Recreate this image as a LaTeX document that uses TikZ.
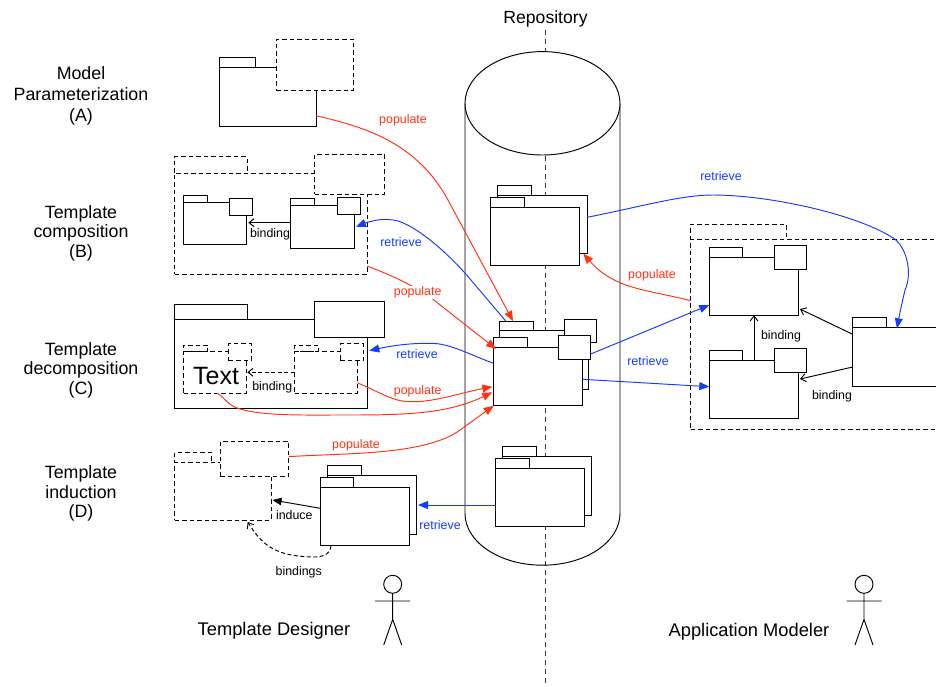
\documentclass[tikz,border=0pt]{standalone}
\usepackage{fontspec}
\setmainfont{Liberation Sans}
\usetikzlibrary{arrows.meta,shapes.geometric}
\definecolor{redl}{RGB}{255,50,20}
\definecolor{bluel}{RGB}{20,60,255}
\tikzset{
  solidbox/.style={draw=black,fill=white,line width=0.95pt,inner sep=0pt,outer sep=0pt,anchor=north west},
  dashbox/.style={solidbox,dash pattern=on 4.5pt off 3pt},
  redarrow/.style={draw=redl,line width=0.95pt,-{Triangle[length=10pt,width=8pt]}},
  bluearrow/.style={draw=bluel,line width=0.95pt,-{Triangle[length=10pt,width=8pt]}},
  openarrow/.style={draw=black,line width=0.95pt,-{Straight Barb[length=5pt,width=8pt]}},
  fullarrow/.style={draw=black,line width=0.95pt,-{Triangle[length=9pt,width=7.5pt]}},
  smalltxt/.style={font=\fontsize{12.4}{15}\selectfont,inner sep=0pt},
  redtxt/.style={smalltxt,text=redl,fill=white,inner sep=1pt},
  bluetxt/.style={smalltxt,text=bluel},
  sidetxt/.style={align=center,inner sep=0pt},
  bigtxt/.style={font=\fontsize{18.3}{21}\selectfont,inner sep=0pt},
  limb/.style={draw=black,line width=0.95pt},
  axisline/.style={draw=black!80,line width=0.95pt,dash pattern=on 5pt off 4pt}
}
\newcommand{\bx}[6]{%
  \pgfmathsetmacro\bxw{#5-#3}\pgfmathsetmacro\bxh{#6-#4}%
  \node[#1,minimum width=\bxw pt,minimum height=\bxh pt] (#2) at (#3,#4) {};}
\begin{document}
\begin{tikzpicture}[x=1pt,y=-1pt]
\clip (0,0) rectangle (936,686);
\fill[white] (0,0) rectangle (936,686);
% repository axis and cylinder
\coordinate (axistop) at (545,30);
\coordinate (axisbot) at (545,686);
\draw[axisline] (axistop) -- (axisbot);
\draw[draw=black,line width=0.95pt] (465,103.3) -- (465,513.5) arc[start angle=180,end angle=0,x radius=77.5,y radius=51.7] -- (620,103.3);
\node[draw=black,fill=white,ellipse,minimum width=155pt,minimum height=103.4pt,inner sep=0pt,outer sep=0pt,line width=0.95pt] at (542.5,103.3) (cyltop) {};
% A
\bx{solidbox}{Atab}{219.3}{57.3}{255.5}{67.3}
\bx{solidbox}{A}{219.3}{67.3}{316}{126}
\bx{dashbox}{Ap}{276.3}{39.3}{353.7}{90}
% B
\bx{dashbox}{Btab}{174.7}{156.7}{247}{173.3}
\bx{dashbox}{B}{174.7}{173.3}{367.3}{274.3}
\bx{dashbox}{Bp}{314.7}{154}{384.3}{194.3}
\bx{solidbox}{BLtab}{183.7}{195.7}{207.3}{202.3}
\bx{solidbox}{BL}{183.7}{202.3}{246.3}{244}
\bx{solidbox}{BLp}{229.3}{198.7}{252}{215.3}
\bx{solidbox}{BRtab}{290.7}{198.7}{314.7}{205.7}
\bx{solidbox}{BR}{290.7}{205.7}{354.3}{248}
\bx{solidbox}{BRp}{337}{197.3}{360.3}{214.7}
\draw[openarrow] ([yshift=-17pt]BR.north west) -- ([yshift=-20.4pt,xshift=2pt]BL.north east);
\node[smalltxt] (Bbind) at (270,234.2) {binding};
% C
\bx{solidbox}{Ctab}{174.7}{304.3}{247}{319}
\bx{solidbox}{C}{174.7}{319}{367}{408.3}
\bx{solidbox}{Cp}{314.7}{301.7}{384.3}{337.7}
\bx{dashbox}{CLtab}{183.7}{345}{207.3}{351.7}
\bx{dashbox}{CL}{183.7}{351.7}{246}{393.3}
\bx{dashbox}{CLp}{228.7}{343.7}{251.3}{360.7}
\bx{dashbox}{CRtab}{294.7}{345}{318}{351.7}
\bx{dashbox}{CR}{294.7}{351.7}{357.3}{393.3}
\bx{dashbox}{CRp}{340}{343.7}{363.3}{360.7}
\node[font=\fontsize{25}{28}\selectfont,inner sep=0pt] (Ctxt) at (216,375.7) {Text};
\draw[openarrow,dash pattern=on 4pt off 2.5pt] ([yshift=-20.6pt]CR.north west) -- ([yshift=-20.6pt,xshift=1.3pt]CL.north east);
\node[smalltxt] (Cbind) at (272.3,387.5) {binding};
% D
\bx{dashbox}{Dtab}{174.7}{452.3}{211}{462}
\bx{dashbox}{D}{174.7}{462}{271}{520}
\bx{dashbox}{Dp}{220.3}{441.3}{288.7}{476.7}
\bx{solidbox}{Dbtab}{327.3}{465}{361}{475}
\bx{solidbox}{Db}{327.3}{475}{416.7}{534}
\bx{solidbox}{Dftab}{320.3}{477.3}{353.7}{487}
\bx{solidbox}{Df}{320.3}{487}{409.7}{545.7}
\draw[fullarrow] ([yshift=-21.3pt]Df.north west) -- ([yshift=-38pt,xshift=1.5pt]D.north east);
\node[smalltxt] (Dind) at (294.3,514.8) {induce};
\draw[openarrow,dash pattern=on 4pt off 2.5pt] ([xshift=-78.7pt]Df.south east) .. controls (330,556) and (320,558) .. (306.7,556.7) .. controls (275,555) and (262,545) .. ([xshift=-23.3pt,yshift=-2pt]D.south east);
\node[smalltxt] (Dbinds) at (298.7,572) {bindings};
% repository package 1
\bx{solidbox}{Rabtab}{497.7}{185.3}{531.7}{195}
\bx{solidbox}{Rab}{497.7}{195}{587}{253.7}
\bx{solidbox}{Raftab}{490.7}{197.3}{524.3}{207}
\bx{solidbox}{Raf}{490.7}{207}{579.7}{265.7}
% repository package 2
\bx{solidbox}{Rbbtab}{499.7}{321}{533.3}{330.7}
\bx{solidbox}{Rbb}{499.7}{330.7}{588.7}{389.3}
\bx{solidbox}{Rbbp}{564.3}{319.3}{596.7}{342.7}
\bx{solidbox}{Rbftab}{493.7}{337.3}{527.3}{347.3}
\bx{solidbox}{Rbf}{493.7}{347.3}{582.7}{405.7}
\bx{solidbox}{Rbfp}{558.7}{335.7}{590.7}{359.3}
% repository package 3
\bx{solidbox}{Rcbtab}{502.7}{446.3}{536.3}{456}
\bx{solidbox}{Rcb}{502.7}{456}{591.7}{515}
\bx{solidbox}{Rcftab}{495.7}{458.3}{529.3}{468}
\bx{solidbox}{Rcf}{495.7}{468}{584.7}{526.7}
% right side
\bx{dashbox}{Etab}{690.7}{224}{786}{239.3}
\bx{dashbox}{E}{690.7}{239.3}{950}{429.3}
\bx{solidbox}{Ettab}{709.3}{247.3}{742.7}{257}
\bx{solidbox}{Et}{709.3}{257}{798.3}{315.3}
\bx{solidbox}{Etp}{774}{245.7}{806.3}{269}
\bx{solidbox}{Ebtab}{709.3}{350.3}{742.7}{360}
\bx{solidbox}{Eb}{709.3}{360}{798.3}{418.3}
\bx{solidbox}{Ebp}{774}{348.7}{806.3}{372}
\bx{solidbox}{Ertab}{852.7}{317.7}{886}{327.3}
\bx{solidbox}{Er}{852.7}{327.3}{950}{386}
\draw[openarrow] ([xshift=44.7pt]Eb.north west) -- ([xshift=44.7pt]Et.south west);
\node[smalltxt] (Ebind1) at (781,336.5) {binding};
\draw[openarrow] ([yshift=-7pt]Er.north west) -- ([yshift=6.3pt,xshift=1.7pt]Et.south east);
\draw[openarrow] ([yshift=-39.7pt]Er.north west) -- ([yshift=-19pt,xshift=1.7pt]Eb.north east);
\node[smalltxt] (Ebind2) at (832,395.8) {binding};
% red populate
\draw[redarrow] ([yshift=-48.4pt]A.north east) .. controls (370,128) and (418,145) .. (448,200) -- ([xshift=13.3pt]Rbbtab.north west);
\node[redtxt,fill=none] (l1) at (403,120) {populate};
\draw[redarrow] ([yshift=8.3pt]B.south east) .. controls (385,273) and (410,283) .. (431.7,298.3) -- ([xshift=2.3pt,yshift=-1.6pt]Rbf.north west);
\node[redtxt] (l2) at (417.7,292.5) {populate};
\draw[redarrow] ([yshift=10.6pt]CR.south east) .. controls (385,395) and (395,402) .. (411.7,401.7) .. controls (435,402) and (460,393) .. ([yshift=-39.4pt,xshift=-1.4pt]Rbf.north west);
\node[redtxt,fill=none] (l3) at (417.7,391.5) {populate};
\draw[redarrow] ([xshift=33.6pt]CL.south west) .. controls (225,398) and (228,405) .. (237,408) .. controls (260,416) and (300,415) .. (340,415) .. controls (400,415) and (445,415) .. ([yshift=-45pt,xshift=-1.4pt]Rbf.north west);
\draw[redarrow] ([yshift=-15.4pt]Dp.north east) .. controls (340,453) and (425,456) .. (460,430) -- (Rbf.south west);
\node[redtxt,fill=none] (l5) at (356,445) {populate};
\draw[redarrow] ([yshift=-61.4pt]E.north west) .. controls (650,290) and (615,290) .. ([xshift=-3.7pt]Rab.south east);
\node[redtxt,fill=none] (l6) at (652,275) {populate};
% blue retrieve
\draw[bluearrow] ([yshift=-22.3pt]Rab.north east) .. controls (640,207) and (680,195) .. (713,195) .. controls (770,195) and (860,215) .. (895,239.3) .. controls (908,250) and (912,275) .. (905,290) .. controls (902,303) and (900,312) .. ([xshift=44.3pt,yshift=-1pt]Er.north west);
\node[bluetxt] (l7) at (721,176.5) {retrieve};
\draw[bluearrow] ([xshift=6pt]Rbbtab.north west) -- (466.7,275) .. controls (440,245) and (410,222) .. (393,220) .. controls (380,218) and (368,222) .. ([xshift=1.7pt,yshift=-21pt]BR.north east);
\node[bluetxt] (l8) at (401,242.5) {retrieve};
\draw[bluearrow] ([yshift=-16pt]Rbf.north west) .. controls (470,355) and (450,343) .. (430,343.3) .. controls (410,343) and (390,346) .. ([xshift=2.3pt,yshift=-31.7pt]C.north east);
\node[bluetxt] (l9) at (417,354.5) {retrieve};
\draw[bluearrow] ([yshift=-18.3pt]Rbfp.north east) -- ([yshift=10.3pt]Et.south west);
\draw[bluearrow] ([yshift=-32pt]Rbf.north east) -- ([yshift=-26.7pt]Eb.north west);
\node[bluetxt] (l10) at (648,361) {retrieve};
\draw[bluearrow] ([yshift=-37pt]Rcf.north west) -- ([yshift=-30pt,xshift=1.3pt]Db.north east);
\node[bluetxt] (l11) at (440,525.5) {retrieve};
% text
\node[inner sep=0pt,font=\fontsize{17.6}{21}\selectfont] (repo) at (545.5,19) {Repository};
\node[sidetxt,font=\fontsize{17.8}{20.7}\selectfont] (sa) at (81,96) {Model\\Parameterization\\(A)};
\node[sidetxt,font=\fontsize{17.8}{19.6}\selectfont] (sb) at (81,233) {Template\\composition\\(B)};
\node[sidetxt,font=\fontsize{17.8}{19.6}\selectfont] (sc) at (81,370) {Template\\decomposition\\(C)};
\node[sidetxt,font=\fontsize{17.8}{19.6}\selectfont] (sd) at (81,493.5) {Template\\induction\\(D)};
\node[bigtxt] (td) at (274,630.5) {Template Designer};
\node[bigtxt] (am) at (749,631.5) {Application Modeler};
% actors
\node[draw=black,circle,minimum size=18pt,inner sep=0pt,outer sep=0pt,line width=0.95pt] (h1) at (392.7,584.3) {};
\coordinate (h1a) at (375,601);\coordinate (h1b) at (410,601);
\coordinate (h1h) at (392.7,619.3);\coordinate (h1l) at (383.7,645);\coordinate (h1r) at (401.7,645);
\draw[limb] (h1.south) -- (h1h) (h1a) -- (h1b) (h1l) -- (h1h) -- (h1r);
\node[draw=black,circle,minimum size=18pt,inner sep=0pt,outer sep=0pt,line width=0.95pt] (h2) at (864,584.3) {};
\coordinate (h2a) at (846.5,601);\coordinate (h2b) at (881.5,601);
\coordinate (h2h) at (864,619.3);\coordinate (h2l) at (855,645);\coordinate (h2r) at (873,645);
\draw[limb] (h2.south) -- (h2h) (h2a) -- (h2b) (h2l) -- (h2h) -- (h2r);
\end{tikzpicture}
\end{document}
